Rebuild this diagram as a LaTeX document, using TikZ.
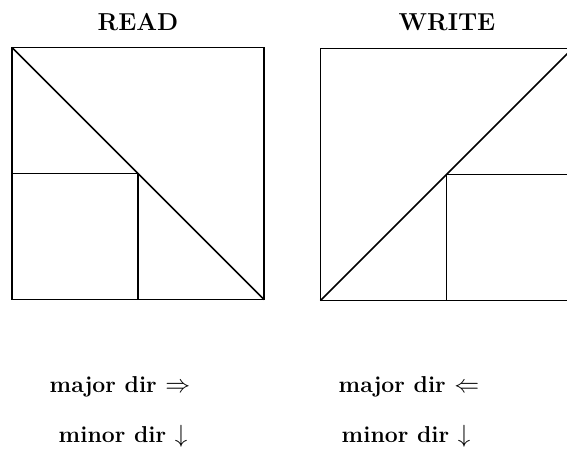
\documentclass[tikz,border=0pt]{standalone}
\usepackage{fontspec}
\usepackage{tikz}
\usetikzlibrary{positioning}

\begin{document}
\begin{tikzpicture}[x=1pt,y=-1pt,
sq/.style={draw,line width=1.7pt,minimum size=252pt,inner sep=0pt,outer sep=0pt},
part/.style={line width=1.7pt},
ttl/.style={anchor=base,inner sep=0pt,font=\fontsize{24.5}{28}\selectfont\bfseries},
lbl/.style={anchor=base,inner sep=0pt,font=\fontsize{23}{27}\selectfont\bfseries}]
\useasboundingbox (0,0) rectangle (567,458);
\node[sq] at (138,173.5)(rd){};
\node[sq] at (446.5,174.5)(wr){};
\node[ttl] at (138,30)(rdtitle){READ};
\node[ttl] at (447,30)(wrtitle){WRITE};
\draw[part](rd.north west)--(rd.south east);
\draw[part](rd.west)--(rd.center)--(rd.south);
\draw[part](wr.south west)--(wr.north east);
\draw[part](wr.south)--(wr.center)--(wr.east);
\node[lbl] at (120,392)(rdmajor){major dir $\Rightarrow$};
\node[lbl] at (123,442)(rdminor){minor dir $\downarrow$};
\node[lbl] at (409,392)(wrmajor){major dir $\Leftarrow$};
\node[lbl] at (406,442)(wrminor){minor dir $\downarrow$};
\end{tikzpicture}
\end{document}
